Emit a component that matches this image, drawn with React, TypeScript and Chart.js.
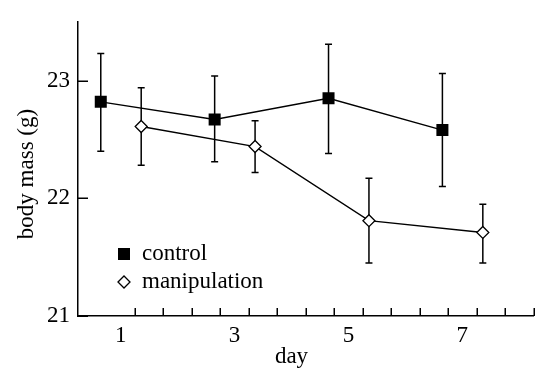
import React, { useEffect, useRef } from "react";
import { Chart, registerables } from "chart.js";

Chart.register(...registerables);

const days = [1, 3, 5, 7];
const dayLabels = ["1", "3", "5", "7"];
const yTickValues = [21, 22, 23];
const xMinorTicks = [1.25, 1.75, 2.25, 2.75, 3.25, 3.75, 4.25, 4.75, 5.25, 5.75, 6.25, 6.75, 7.25, 7.75, 8.25];

const controlMean = [22.82, 22.67, 22.85, 22.58];
const controlUpper = [23.23, 23.04, 23.31, 23.06];
const controlLower = [22.4, 22.31, 22.38, 22.1];

const manipMean = [22.61, 22.44, 21.81, 21.71];
const manipUpper = [22.94, 22.66, 22.17, 21.95];
const manipLower = [22.28, 22.22, 21.45, 21.45];

const controlOffset = -0.35;
const manipOffset = 0.36;

const FONT = '"Liberation Serif", "Times New Roman", serif';
const FS = 23;

const errorBars = [
  { upper: controlUpper, lower: controlLower },
  { upper: manipUpper, lower: manipLower },
];

const customPlugin = {
  id: "custom",
  beforeDatasetsDraw(chart: any) {
    const ctx = chart.ctx;
    const x = chart.scales.x;
    const y = chart.scales.y;
    ctx.save();
    ctx.strokeStyle = "#000";
    ctx.lineWidth = 1.5;
    chart.data.datasets.forEach((ds: any, i: number) => {
      const eb = errorBars[i];
      ds.data.forEach((p: any, j: number) => {
        const px = x.getPixelForValue(p.x);
        const top = y.getPixelForValue(eb.upper[j]);
        const bot = y.getPixelForValue(eb.lower[j]);
        ctx.beginPath();
        ctx.moveTo(px, top);
        ctx.lineTo(px, bot);
        ctx.moveTo(px - 3.5, top);
        ctx.lineTo(px + 3.5, top);
        ctx.moveTo(px - 3.5, bot);
        ctx.lineTo(px + 3.5, bot);
        ctx.stroke();
      });
    });
    ctx.restore();
  },
  afterDraw(chart: any) {
    const ctx = chart.ctx;
    const x = chart.scales.x;
    const y = chart.scales.y;
    const area = chart.chartArea;
    ctx.save();
    ctx.strokeStyle = "#000";
    ctx.lineWidth = 1.5;
    ctx.beginPath();
    xMinorTicks.forEach((v) => {
      const px = Math.round(x.getPixelForValue(v)) + 0.25;
      ctx.moveTo(px, area.bottom);
      ctx.lineTo(px, area.bottom - 8);
    });
    yTickValues.forEach((v) => {
      const py = Math.round(y.getPixelForValue(v)) + 0.25;
      ctx.moveTo(area.left, py);
      ctx.lineTo(area.left + 10, py);
    });
    ctx.stroke();

    ctx.fillStyle = "#000";
    ctx.font = `${FS}px ${FONT}`;
    ctx.textBaseline = "middle";
    ctx.textAlign = "left";
    const lx = area.left + 46;
    const ly1 = area.bottom - 62;
    const ly2 = area.bottom - 34;
    ctx.fillRect(lx - 6, ly1 - 6, 12, 12);
    ctx.fillText("control", lx + 18, ly1);
    ctx.beginPath();
    ctx.moveTo(lx - 6, ly2);
    ctx.lineTo(lx, ly2 - 6);
    ctx.lineTo(lx + 6, ly2);
    ctx.lineTo(lx, ly2 + 6);
    ctx.closePath();
    ctx.fillStyle = "#fff";
    ctx.fill();
    ctx.lineWidth = 1.3;
    ctx.stroke();
    ctx.fillStyle = "#000";
    ctx.fillText("manipulation", lx + 18, ly2);

    ctx.textAlign = "center";
    ctx.fillText("day", x.getPixelForValue(4), area.bottom + 41);
    ctx.save();
    ctx.translate(27, 174);
    ctx.rotate(-Math.PI / 2);
    ctx.fillText("body mass (g)", 0, 0);
    ctx.restore();
    ctx.restore();
  },
};

export default function App() {
  const ref = useRef<HTMLCanvasElement | null>(null);
  useEffect(() => {
    document.body.style.margin = "0";
    const canvas = ref.current!;
    const chart = new Chart(canvas, {
      type: "line",
      data: {
        datasets: [
          {
            label: "control",
            data: days.map((d, i) => ({ x: d + controlOffset, y: controlMean[i] })),
            borderColor: "#000",
            borderWidth: 1.4,
            pointStyle: "rect",
            pointRadius: 8.5,
            pointBackgroundColor: "#000",
            pointBorderColor: "#000",
            pointBorderWidth: 0,
            tension: 0,
          },
          {
            label: "manipulation",
            data: days.map((d, i) => ({ x: d + manipOffset, y: manipMean[i] })),
            borderColor: "#000",
            borderWidth: 1.4,
            pointStyle: "rectRot",
            pointRadius: 6,
            pointBackgroundColor: "#fff",
            pointBorderColor: "#000",
            pointBorderWidth: 1.3,
            tension: 0,
          },
        ],
      },
      options: {
        responsive: false,
        animation: false,
        layout: { padding: { top: 14, right: 5, left: 0, bottom: 0 } },
        plugins: { legend: { display: false }, tooltip: { enabled: false } },
        scales: {
          x: {
            type: "linear",
            min: 0.25,
            max: 8.25,
            afterBuildTicks: (s: any) => {
              s.ticks = days.map((v) => ({ value: v }));
            },
            afterFit: (s: any) => {
              s.height = 53;
            },
            grid: { display: false, drawTicks: false },
            border: { display: true, color: "#000", width: 1.5 },
            ticks: {
              callback: (v: any) => dayLabels[days.indexOf(Number(v))] ?? "",
              color: "#000",
              font: { family: FONT, size: FS },
              padding: 6,
              maxRotation: 0,
              autoSkip: false,
            },
          },
          y: {
            type: "linear",
            min: 21,
            max: 23.5,
            afterBuildTicks: (s: any) => {
              s.ticks = yTickValues.map((v) => ({ value: v }));
            },
            afterFit: (s: any) => {
              s.width = 78;
            },
            grid: { display: false, drawTicks: false },
            border: { display: true, color: "#000", width: 1.5 },
            ticks: {
              color: "#000",
              font: { family: FONT, size: FS },
              padding: 8,
            },
          },
        },
      },
      plugins: [customPlugin],
    });
    return () => chart.destroy();
  }, []);
  return (
    <div style={{ width: 542, height: 369 }}>
      <canvas ref={ref} width={542} height={369} style={{ display: "block" }} />
    </div>
  );
}
